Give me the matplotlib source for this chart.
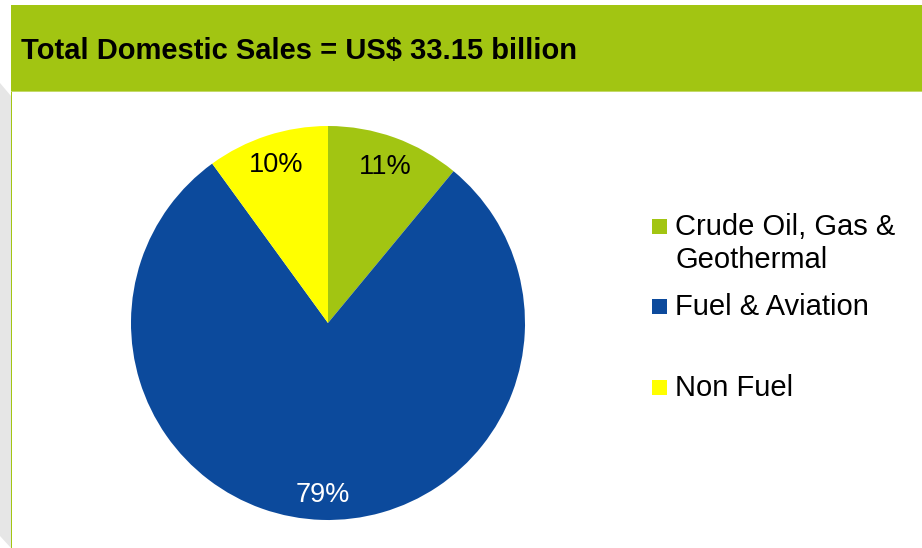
import matplotlib

matplotlib.use("Agg")
import matplotlib.pyplot as plt
import matplotlib.transforms as mtransforms
from matplotlib.patches import Polygon, Rectangle

plt.rcParams["font.family"] = ["Liberation Sans", "DejaVu Sans"]

TITLE = "Total Domestic Sales = US$ 33.15 billion"
SEGMENTS = ["Crude Oil, Gas &\nGeothermal", "Fuel & Aviation", "Non Fuel"]
SHARES = [11, 79, 10]
COLORS = ["#A2C512", "#0C4A9C", "#FFFF00"]
PCT_COLORS = ["black", "white", "black"]

W, H = 922, 548
fig = plt.figure(figsize=(W / 100, H / 100), dpi=100)


def px(x, y):
    # pixel coords (top-left origin) -> figure fraction
    return x / W, 1 - y / H


# slide frame: grey shadow strip on the left, thin green rule, green header band
bg = fig.add_axes([0, 0, 1, 1])
bg.set_xlim(0, W)
bg.set_ylim(H, 0)
bg.set_axis_off()
bg.add_patch(Polygon([(0, 83), (11, 96), (11, 548), (0, 536)],
                     closed=True, color="#E6E6E6", lw=0))
bg.add_patch(Rectangle((10.5, 5), 1.6, H, color="#A2C512", lw=0))
bg.add_patch(Rectangle((11, 5), W - 11, 87, color="#A2C512", lw=0))
bg.add_patch(Rectangle((11, 91), W - 11, 1.2, color="#C3D96A", lw=0))
bg.text(21, 59, TITLE, fontsize=21, fontweight="bold", ha="left", va="baseline")

# pie
cx, cy, r = 328, 323, 197
l, b = px(cx - r, cy + r)
ax = fig.add_axes([l, b, 2 * r / W, 2 * r / H])
wedges, texts, autotexts = ax.pie(
    SHARES, colors=COLORS, startangle=90, counterclock=False,
    autopct="%d%%", pctdistance=0.86, radius=1,
    wedgeprops=dict(linewidth=0),
    textprops=dict(fontsize=19.5),
)
# nudge the percentages down a little so the digits sit centred on the ring
shift = mtransforms.offset_copy(ax.transData, fig=fig, x=0, y=-3, units="dots")
for t, c in zip(autotexts, PCT_COLORS):
    t.set_color(c)
    t.set_transform(shift)
ax.set_xlim(-1, 1)
ax.set_ylim(-1, 1)
ax.set_aspect("auto")

# legend, laid out by hand to keep the uneven row spacing
legend_rows = [226, 306, 387]
for label, color, y in zip(SEGMENTS, COLORS, legend_rows):
    bg.add_patch(Rectangle((652, y - 7.5), 15, 15, color=color, lw=0))
    bg.text(675, y + 9, label.split("\n")[0], fontsize=21, ha="left",
            va="baseline")
    for i, extra in enumerate(label.split("\n")[1:], start=1):
        bg.text(675, y + 9 + 33 * i, extra, fontsize=21, ha="left",
                va="baseline")

fig.savefig("out.png", dpi=100)
